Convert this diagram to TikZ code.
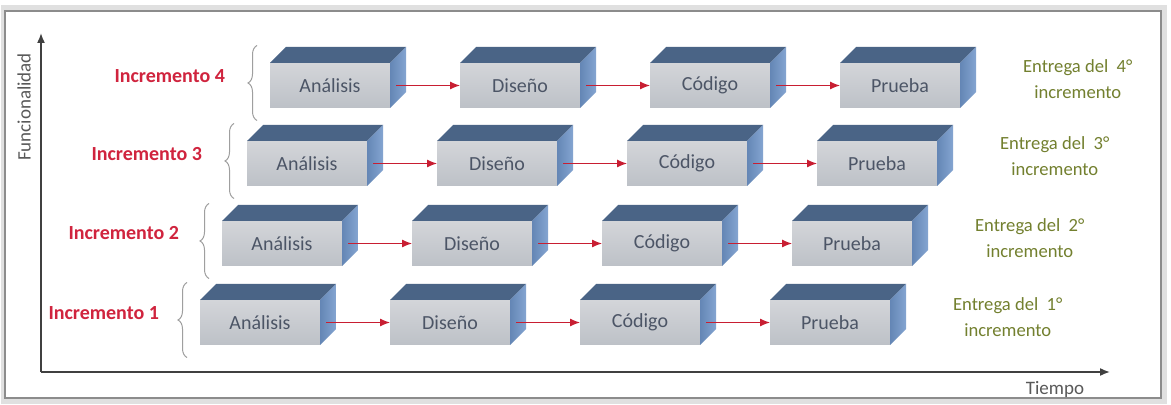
\documentclass[tikz,border=0pt]{standalone}
\usepackage{fontspec}
\setmainfont{Carlito}
\usetikzlibrary{arrows.meta,positioning,decorations.pathreplacing}
\definecolor{frontlight}{HTML}{D3D5D9}
\definecolor{frontdark}{HTML}{BDC1C7}
\definecolor{topblue}{HTML}{4A6486}
\definecolor{sideblue}{HTML}{6F95C9}
\definecolor{stagetext}{HTML}{4C5566}
\definecolor{incrred}{HTML}{D0243E}
\definecolor{flowred}{HTML}{C81E32}
\definecolor{olive}{HTML}{73802F}

\begin{document}
\begin{tikzpicture}[x=0.5pt,y=-0.5pt,node distance=35pt,
  stage/.style={minimum width=60pt,minimum height=22.5pt,inner sep=0pt,outer sep=0pt,top color=frontlight,bottom color=frontdark,text=stagetext,font=\fontsize{10}{12}\selectfont},
  flow/.style={-{Latex[length=5pt,width=4pt]},flowred,line width=0.6pt},
  llave/.style={decorate,decoration={brace,amplitude=4.5pt},gray!75,line width=0.5pt},
  incr/.style={text=incrred,font=\bfseries\fontsize{10}{12}\selectfont},
  entrega/.style={text=olive,align=center,font=\fontsize{9.3}{13}\selectfont},
  axis/.style={-{Latex[length=5pt,width=4pt]},black!75,line width=0.8pt},
  axlabel/.style={text=black!65,font=\fontsize{9.5}{11}\selectfont}]
\useasboundingbox (0,0) rectangle (1171,405);
% marco
\fill[black!12] (1,5) rectangle (1167,404);
\fill[white] (5,11) rectangle (1161,398);
\draw[black!45,line width=1pt] (5,11) rectangle (1161,398);

% ejes
\coordinate (o) at (41,372);
\coordinate (ytop) at (41,33);
\coordinate (xend) at (1110,372);
\draw[axis] (o) -- (ytop);
\draw[axis] (o) -- (xend);
\node[axlabel,rotate=90] (func) at (24,107) {Funcionalidad};
\node[axlabel] (tiempo) at (1055,389) {Tiempo};

% incremento 4
\node[stage] (an4) at (330,85.5) {Análisis};
\node[stage,right=of an4] (di4) {Diseño};
\node[stage,right=of di4] (co4) {Código};
\node[stage,right=of co4] (pr4) {Prueba};
% incremento 3
\node[stage] (an3) at (307,163.5) {Análisis};
\node[stage,right=of an3] (di3) {Diseño};
\node[stage,right=of di3] (co3) {Código};
\node[stage,right=of co3] (pr3) {Prueba};
% incremento 2
\node[stage] (an2) at (282,243.5) {Análisis};
\node[stage,right=of an2] (di2) {Diseño};
\node[stage,right=of di2] (co2) {Código};
\node[stage,right=of co2] (pr2) {Prueba};
% incremento 1
\node[stage] (an1) at (260,322.5) {Análisis};
\node[stage,right=of an1] (di1) {Diseño};
\node[stage,right=of di1] (co1) {Código};
\node[stage,right=of co1] (pr1) {Prueba};

% caras superior y lateral
\foreach \r in {1,...,4}
 \foreach \c in {an,di,co,pr}{
  \fill[topblue] (\c\r.north west) -- ++(8pt,8pt) -- ([shift={(8pt,8pt)}]\c\r.north east) -- (\c\r.north east) -- cycle;
  \shade[left color=sideblue!90!black,right color=sideblue!85!white] (\c\r.north east) -- ++(8pt,8pt) -- ([shift={(8pt,8pt)}]\c\r.south east) -- (\c\r.south east) -- cycle;
 }

\foreach \r in {1,...,4}{
  \draw[flow] ([xshift=3pt]an\r.east) -- (di\r.west);
  \draw[flow] ([xshift=3pt]di\r.east) -- (co\r.west);
  \draw[flow] ([xshift=3pt]co\r.east) -- (pr\r.west);
  \draw[llave] ([xshift=-6.5pt,yshift=-17.5pt]an\r.west) -- ([xshift=-6.5pt,yshift=20pt]an\r.west);
}

\node[incr,left=19pt of an4,yshift=4.5pt] (i4) {Incremento 4};
\node[incr,left=19pt of an3,yshift=4.5pt] (i3) {Incremento 3};
\node[incr,left=18pt of an2,yshift=5pt] (i2) {Incremento 2};
\node[incr,left=17pt of an1,yshift=4.5pt] (i1) {Incremento 1};

\node[entrega,right=28pt of pr4,yshift=3pt] (e4) {Entrega del\ \ 4°\\incremento};
\node[entrega,right=28pt of pr3,yshift=3.5pt] (e3) {Entrega del\ \ 3°\\incremento};
\node[entrega,right=28pt of pr2,yshift=2.5pt] (e2) {Entrega del\ \ 2°\\incremento};
\node[entrega,right=28pt of pr1,yshift=2.5pt] (e1) {Entrega del\ \ 1°\\incremento};
\end{tikzpicture}
\end{document}
